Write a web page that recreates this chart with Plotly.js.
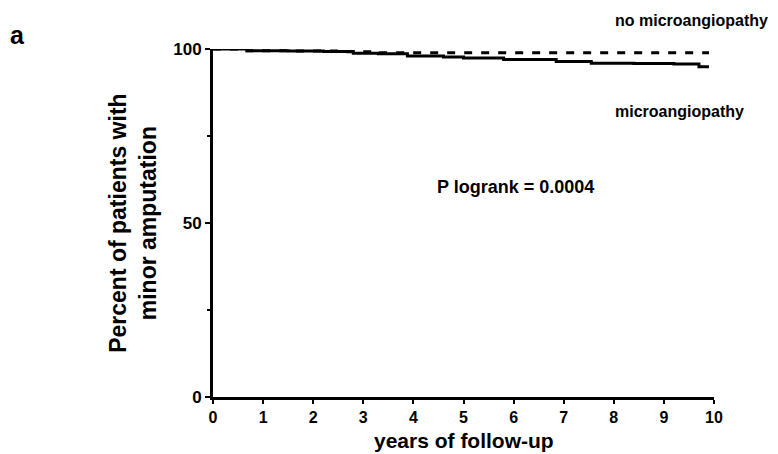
<!DOCTYPE html>
<html>
<head>
<meta charset="utf-8">
<script src="https://cdn.plot.ly/plotly-3.0.1.min.js"></script>
<style>html,body{margin:0;padding:0;background:#fff;}#chart{width:778px;height:454px;}</style>
</head>
<body>
<div id="chart"></div>
<script>
// Kaplan-Meier style curves (percent of patients without minor amputation)
const microYears = [0, 0.68, 1.5, 2.2, 2.8, 3.3, 3.88, 4.6, 5.0, 5.8, 6.85, 7.55, 8.4, 9.2, 9.7, 9.9];
const microPct   = [100, 99.5, 99.4, 99.3, 98.8, 98.6, 98.0, 97.7, 97.4, 97.0, 96.4, 95.9, 95.8, 95.7, 94.9, 94.9];
const noMicroYears = [0, 0.68, 1.6, 2.5, 3.2, 9.9];
const noMicroPct   = [100, 99.5, 99.4, 99.2, 98.9, 98.9];
const xTicks = [0, 1, 2, 3, 4, 5, 6, 7, 8, 9, 10];
const yTicks = [0, 50, 100];
const yMinorTicks = [25, 75];
const labels = {
  noMicro: 'no microangiopathy',
  micro: 'microangiopathy',
  pval: 'P logrank = 0.0004',
  panel: 'a',
  xTitle: 'years of follow-up',
  yTitle: 'Percent of patients with<br>minor amputation'
};

const FONT = 'Liberation Sans, Arial, Helvetica, sans-serif';

const traces = [
  {x: noMicroYears, y: noMicroPct, mode: 'lines', line: {shape: 'hv', color: '#000', width: 3, dash: '8px,9px'}, hoverinfo: 'skip'},
  {x: microYears, y: microPct, mode: 'lines', line: {shape: 'hv', color: '#000', width: 3}, hoverinfo: 'skip'}
];

const layout = {
  width: 778, height: 454,
  margin: {l: 213, r: 64, t: 49, b: 57},
  paper_bgcolor: '#fff', plot_bgcolor: '#fff',
  showlegend: false,
  font: {family: FONT, color: '#000'},
  xaxis: {
    range: [0, 10], tickvals: xTicks, ticktext: xTicks.map(String),
    showgrid: false, zeroline: false, showline: true, linecolor: '#000', linewidth: 3,
    ticks: 'outside', ticklen: 4, tickwidth: 2, tickcolor: '#000',
    tickfont: {family: FONT, size: 16, weight: 'bold', color: '#000'},
    fixedrange: true
  },
  yaxis: {
    range: [0, 100], tickvals: yTicks, ticktext: yTicks.map(String),
    showgrid: false, zeroline: false, showline: true, linecolor: '#000', linewidth: 3,
    ticks: 'outside', ticklen: 5, tickwidth: 2, tickcolor: '#000',
    tickfont: {family: FONT, size: 17, weight: 'bold', color: '#000'},
    minor: {tickvals: yMinorTicks, ticks: 'outside', ticklen: 3, tickwidth: 2, tickcolor: '#000'},
    fixedrange: true
  },
  annotations: [
    {text: labels.noMicro, xref: 'paper', yref: 'paper', x: 0.798, y: 1.083, xanchor: 'left', yanchor: 'middle', showarrow: false, font: {family: FONT, size: 16, weight: 'bold'}},
    {text: labels.micro, xref: 'paper', yref: 'paper', x: 0.798, y: 0.819, xanchor: 'left', yanchor: 'middle', showarrow: false, font: {family: FONT, size: 16, weight: 'bold'}},
    {text: labels.pval, xref: 'paper', yref: 'paper', x: 0.443, y: 0.603, xanchor: 'left', yanchor: 'middle', showarrow: false, font: {family: FONT, size: 18, weight: 'bold'}},
    {text: labels.panel, xref: 'paper', yref: 'paper', x: -0.391, y: 1.04, xanchor: 'center', yanchor: 'middle', showarrow: false, font: {family: FONT, size: 25, weight: 'bold'}},
    {text: labels.xTitle, xref: 'paper', yref: 'paper', x: 0.5, y: -0.164, xanchor: 'center', yanchor: 'bottom', showarrow: false, font: {family: FONT, size: 21, weight: 'bold'}},
    {text: labels.yTitle, xref: 'paper', yref: 'paper', x: -0.16, y: 0.5, xanchor: 'center', yanchor: 'middle', textangle: -90, showarrow: false, font: {family: FONT, size: 23, weight: 'bold'}}
  ]
};

Plotly.newPlot('chart', traces, layout, {staticPlot: true, displayModeBar: false});
</script>
</body>
</html>
